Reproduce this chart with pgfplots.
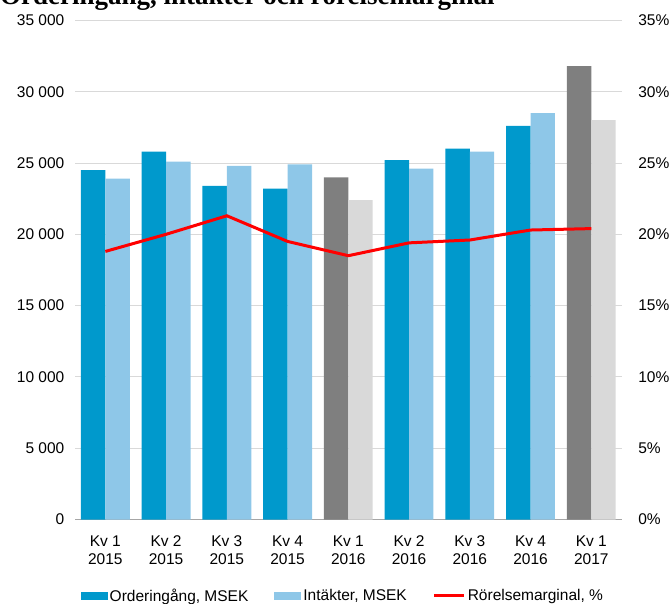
\documentclass[border=0pt]{standalone}
\usepackage{pgfplots}
\pgfplotsset{compat=1.18}
\usepackage{fontspec}
\setmainfont{Liberation Sans}
\newfontfamily\titlefont{Liberation Serif}
\definecolor{dblue}{HTML}{0099CC}
\definecolor{lblue}{HTML}{8EC7E8}
\definecolor{dgray}{HTML}{7F7F7F}
\definecolor{lgray}{HTML}{D9D9D9}
\definecolor{gridc}{HTML}{D9D9D9}
\definecolor{axc}{HTML}{A6A6A6}
\pgfplotsset{
  barleg/.style={legend image code/.code={\fill[##1] (0bp,-4bp) rectangle (27bp,4bp);}},
  lineleg/.style={legend image code/.code={\draw[##1] (0bp,0bp) -- (30bp,0bp);}},
  common/.style={
    at={(75bp,-519.5bp)}, anchor=south west,
    scale only axis, width=546.7bp, height=499.1bp,
    xmin=-0.5, xmax=8.5,
    tick label style={font=\fontsize{15.5bp}{18.6bp}\selectfont},
  }
}
\begin{document}
\begin{tikzpicture}
\begin{axis}[common,
  ymin=0, ymax=35000,
  ybar, bar width=24.4bp,
  axis x line=bottom, axis y line=left,
  x axis line style={-, draw=axc, line width=1bp},
  y axis line style={draw=none},
  xtick={0,...,8},
  xticklabels={{Kv 1\\2015},{Kv 2\\2015},{Kv 3\\2015},{Kv 4\\2015},{Kv 1\\2016},{Kv 2\\2016},{Kv 3\\2016},{Kv 4\\2016},{Kv 1\\2017}},
  xticklabel style={align=center, font=\fontsize{15.5bp}{18bp}\selectfont, yshift=-11bp},
  major x tick style={draw=none},
  extra x ticks={-0.5,0.5,...,8.5},
  extra x tick labels={},
  extra x tick style={xtick align=outside, major tick length=5bp, tick style={draw=axc, line width=1bp}, xmajorgrids=false},
  scaled y ticks=false,
  ytick={0,5000,...,35000},
  yticklabels={0,5~000,10~000,15~000,20~000,25~000,30~000,35~000},
  yticklabel style={xshift=-5bp},
  ytick style={draw=none},
  ymajorgrids, grid style={draw=gridc, line width=1bp},
  legend style={at={(0.49,-0.153)}, anchor=center, draw=none, fill=none,
    legend columns=3, font=\fontsize{15.5bp}{18.6bp}\selectfont,
    /tikz/every even column/.append style={column sep=24bp},
    legend cell align=left},
]
\addplot[fill=dblue, draw=none, bar shift=-12.2bp, barleg] coordinates {(0,24500) (1,25800) (2,23400) (3,23200) (5,25200) (6,26000) (7,27600)};
\addlegendentry{Orderingång, MSEK}
\addplot[fill=lblue, draw=none, bar shift=12.2bp, barleg] coordinates {(0,23900) (1,25100) (2,24800) (3,24900) (5,24600) (6,25800) (7,28500)};
\addlegendentry{Intäkter, MSEK}
\addplot[fill=dgray, draw=none, bar shift=-12.2bp, forget plot] coordinates {(4,24000) (8,31800)};
\addplot[fill=lgray, draw=none, bar shift=12.2bp, forget plot] coordinates {(4,22400) (8,28000)};
\addlegendimage{red, line width=3bp, lineleg}
\addlegendentry{Rörelsemarginal, \%}
\end{axis}
\begin{axis}[common,
  ymin=0, ymax=35,
  axis x line=none, axis y line=right,
  y axis line style={draw=none},
  ytick={0,5,...,35},
  yticklabels={0\%,5\%,10\%,15\%,20\%,25\%,30\%,35\%},
  yticklabel style={xshift=11bp},
  ytick style={draw=none},
]
\addplot[red, line width=3bp, mark=none] coordinates {(0,18.8) (1,20.0) (2,21.3) (3,19.5) (4,18.5) (5,19.4) (6,19.6) (7,20.3) (8,20.4)};
\end{axis}
\node[anchor=base west, inner sep=0, font=\titlefont\bfseries\fontsize{27bp}{30bp}\selectfont] at (0bp,-4bp) {Orderingång, intäkter och rörelsemarginal};
\pgfresetboundingbox
\useasboundingbox (0,0) rectangle (670bp,-604bp);
\end{tikzpicture}
\end{document}
